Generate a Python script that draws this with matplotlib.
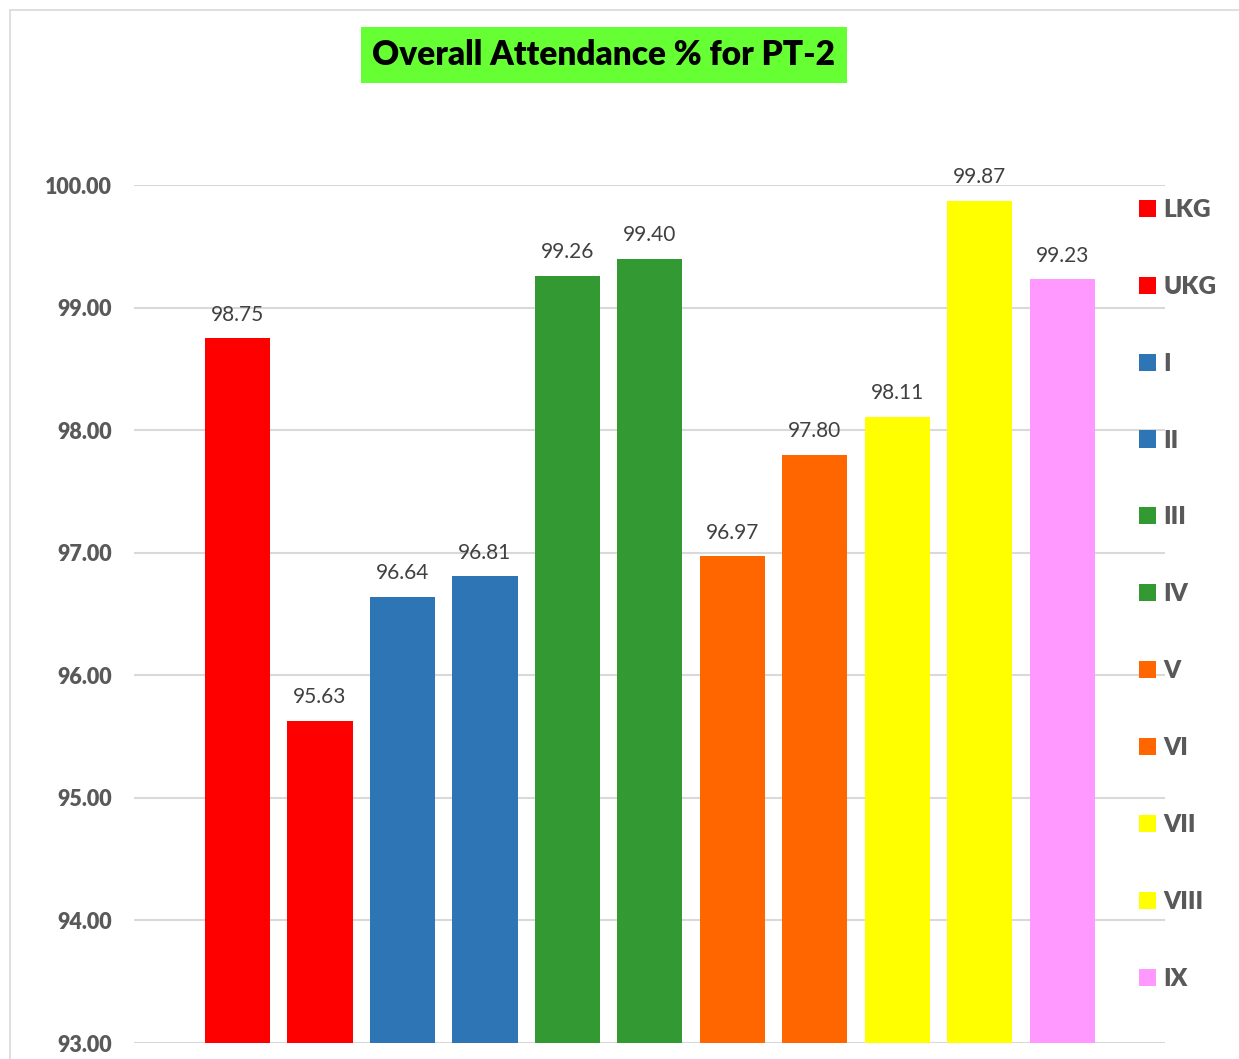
import matplotlib

matplotlib.use("Agg")
import matplotlib.pyplot as plt
from matplotlib.patches import Patch, Rectangle

plt.rcParams["font.family"] = ["Lato", "DejaVu Sans"]

CLASSES = ["LKG", "UKG", "I", "II", "III", "IV", "V", "VI", "VII", "VIII", "IX"]
ATTENDANCE = [98.75, 95.63, 96.64, 96.81, 99.26, 99.40, 96.97, 97.80, 98.11, 99.87, 99.23]
COLORS = [
    "#FF0000", "#FF0000",
    "#2E75B6", "#2E75B6",
    "#339933", "#339933",
    "#FF6600", "#FF6600",
    "#FFFF00", "#FFFF00",
    "#FF99FF",
]
Y_TICKS = [93, 94, 95, 96, 97, 98, 99, 100]

TEXT_GREY = "#595959"
GRID_GREY = "#D9D9D9"

fig = plt.figure(figsize=(12.39, 10.59), dpi=100)
fig.patches.append(
    Rectangle((10 / 1239, -0.01), 1.0, 1 - 10 / 1059 + 0.01, transform=fig.transFigure,
              fill=False, edgecolor=GRID_GREY, linewidth=1.2)
)

ax = fig.add_axes([134 / 1239, 16 / 1059, (1165 - 134) / 1239, (1043 - 185) / 1059])
x = list(range(len(CLASSES)))
ax.bar(x, [v - 93 for v in ATTENDANCE], bottom=93, width=0.79, color=COLORS, zorder=3)

for xi, val in zip(x, ATTENDANCE):
    ax.text(xi, val + 0.11, f"{val:.2f}", ha="center", va="bottom",
            fontsize=15, color="#404040", clip_on=False)

ax.set_xlim(-1.255, 11.245)
ax.set_ylim(93, 100)
ax.set_yticks(Y_TICKS)
ax.set_yticklabels([f"{t:.2f}" for t in Y_TICKS], fontsize=15.5, fontweight="heavy", color=TEXT_GREY)
ax.tick_params(axis="y", length=0, pad=16)
ax.set_xticks([])
ax.grid(axis="y", color=GRID_GREY, linewidth=1.5, zorder=0)
for side in ["top", "right", "left", "bottom"]:
    ax.spines[side].set_visible(False)

handles = [Patch(facecolor=c, edgecolor="none", label=n) for n, c in zip(CLASSES, COLORS)]
leg = ax.legend(handles=handles, loc="upper left", bbox_to_anchor=(1129 / 1239, 1 - 189 / 1059),
                bbox_transform=fig.transFigure, frameon=False, fontsize=17.5,
                handlelength=0.7, handleheight=0.7, handletextpad=0.3,
                labelspacing=2.26, borderaxespad=0)
for t in leg.get_texts():
    t.set_color(TEXT_GREY)
    t.set_fontweight("heavy")

fig.text(604 / 1239, 1 - 55 / 1059, "Overall Attendance % for PT-2", ha="center", va="center",
         fontsize=24, fontweight="heavy", color="black",
         bbox=dict(facecolor="#66FF33", edgecolor="none", pad=8.5))

fig.savefig("out.png", dpi=100)
